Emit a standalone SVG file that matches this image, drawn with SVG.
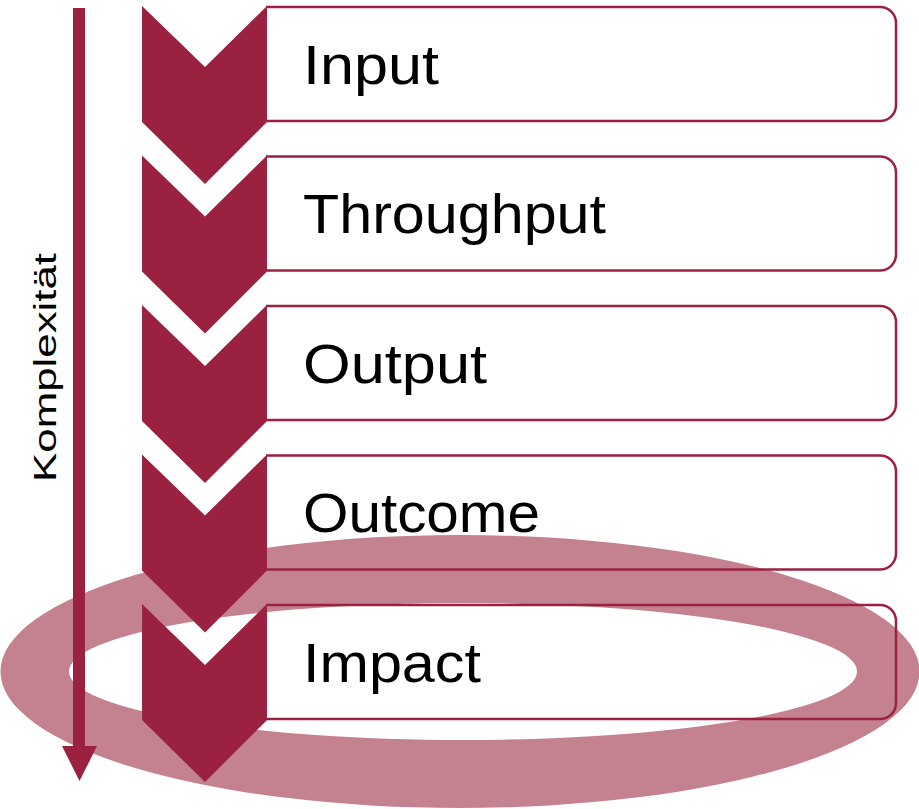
<svg xmlns="http://www.w3.org/2000/svg" width="919" height="809" viewBox="0 0 919 809">
<style>
.box{fill:none;stroke:#9B2141;stroke-width:2.5}
.chev{fill:#9B2141}
.lbl{font-family:"Liberation Sans",Arial,sans-serif;font-size:55px;fill:#000}
.side{font-family:"Liberation Sans",Arial,sans-serif;font-size:31px;fill:#000}
</style>
<defs>
<polygon id="chevron" points="142,0 205,61 267,0 267,116 205,178 142,116"/>
<path id="frame" d="M266,0 H880 A16,16 0 0 1 896,16 V98 A16,16 0 0 1 880,114 H266"/>
</defs>
<rect width="919" height="809" fill="#fff"/>
<path id="ring" fill="#C48190" fill-rule="evenodd" d="M0.5,671.5 A459.5,136.5 0 1 0 919.5,671.5 A459.5,136.5 0 1 0 0.5,671.5 Z M69,671.5 A394,68.5 0 1 0 857,671.5 A394,68.5 0 1 0 69,671.5 Z"/>
<g id="node-input">
<use href="#frame" class="box" y="7"/>
<use href="#chevron" class="chev" y="6"/>
<text class="lbl" x="303" y="84" textLength="136" lengthAdjust="spacingAndGlyphs">Input</text>
</g>
<g id="node-throughput">
<use href="#frame" class="box" y="156.5"/>
<use href="#chevron" class="chev" y="155.5"/>
<text class="lbl" x="303" y="233" textLength="303" lengthAdjust="spacingAndGlyphs">Throughput</text>
</g>
<g id="node-output">
<use href="#frame" class="box" y="306"/>
<use href="#chevron" class="chev" y="305"/>
<text class="lbl" x="303" y="383" textLength="184" lengthAdjust="spacingAndGlyphs">Output</text>
</g>
<g id="node-outcome">
<use href="#frame" class="box" y="455.5"/>
<use href="#chevron" class="chev" y="454.5"/>
<text class="lbl" x="303" y="532" textLength="237" lengthAdjust="spacingAndGlyphs">Outcome</text>
</g>
<g id="node-impact">
<use href="#frame" class="box" y="605"/>
<use href="#chevron" class="chev" y="604"/>
<text class="lbl" x="303" y="682" textLength="178" lengthAdjust="spacingAndGlyphs">Impact</text>
</g>
<g id="connectors">
<rect x="73" y="8" width="12" height="739" fill="#9B2141"/>
<polygon points="62,746 97,746 79.5,781" fill="#9B2141"/>
<text class="side" transform="translate(56,367.5) rotate(-90)" text-anchor="middle" textLength="229" lengthAdjust="spacingAndGlyphs">Komplexität</text>
</g>
</svg>
